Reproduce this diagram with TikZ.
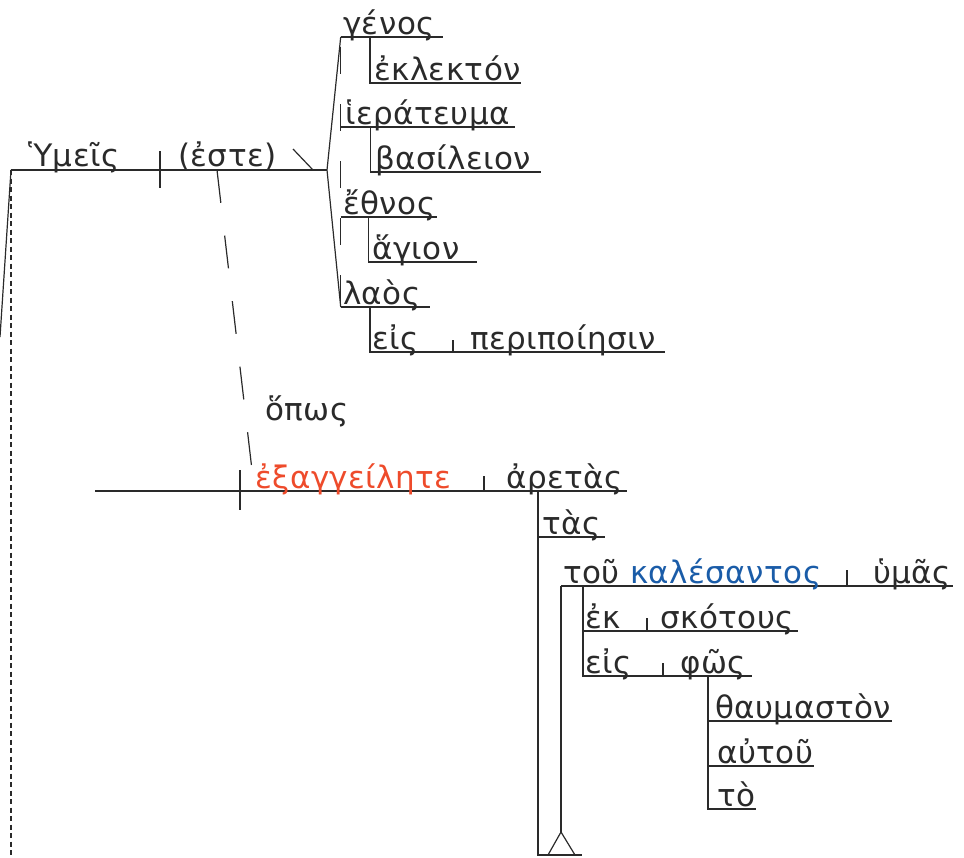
\documentclass[tikz,border=0pt]{standalone}
\usepackage{fontspec}
\setmainfont[LetterSpace=1.5]{DejaVu Sans}
\definecolor{verbred}{HTML}{EE4B2B}
\definecolor{partblue}{HTML}{1A5CA8}
\definecolor{ink}{HTML}{2A2A2A}
\begin{document}
\begin{tikzpicture}[x=1pt,y=-1pt,
  ln/.style={line width=1.2pt, draw=ink},
  wd/.style={anchor=base west, inner sep=0pt, text=ink, font=\fontsize{31}{33}\selectfont}]
\useasboundingbox (0,0) rectangle (964,857);
% ---------- main clause ----------
\coordinate (m0) at (11,170);
\coordinate (mfar) at (0,337);
\coordinate (mbot) at (11,857);
\coordinate (dvA) at (160,151);
\coordinate (dvB) at (160,188);
\coordinate (fork) at (327,170);
\coordinate (bsA) at (293,149);
\coordinate (bsB) at (313,170);
\node[wd] (hymeis) at (28,166) {Ὑμεῖς};
\node[wd] (este) at (178,166) {(ἐστε)};
\draw[ln] (m0) -- (fork);
\draw[ln] (dvA) -- (dvB);
\draw[ln] (bsA) -- (bsB);
\draw[ln] (m0) -- (mfar);
\draw[ln, dash pattern=on 5pt off 3.5pt] (m0) -- (mbot);
% ---------- compound predicate nominatives ----------
\coordinate (ge0) at (340.7,37);  \coordinate (ge1) at (443,37);
\coordinate (ek0) at (370,37);    \coordinate (ek1) at (370,83);  \coordinate (ek2) at (521,83);
\coordinate (hi0) at (340.7,127); \coordinate (hi1) at (515,127);
\coordinate (ba0) at (370.7,127); \coordinate (ba1) at (370.7,172); \coordinate (ba2) at (541,172);
\coordinate (et0) at (340.7,217); \coordinate (et1) at (437,217);
\coordinate (ag0) at (368.3,217); \coordinate (ag1) at (368.3,262); \coordinate (ag2) at (477,262);
\coordinate (la0) at (340.7,307); \coordinate (la1) at (430,307);
\coordinate (ei0) at (370,307);   \coordinate (ei1) at (370,352); \coordinate (ei2) at (665,352);
\coordinate (eiT) at (453,340);   \coordinate (eiB) at (453,352);
\draw[ln] (fork) -- (ge0);
\draw[ln] (fork) -- (la0);
\draw[ln, dash pattern=on 27pt off 30pt, dash phase=47pt] (ge0) -- (la0);
\draw[ln] (ge0) -- (ge1);
\draw[ln] (ek0) -- (ek1) -- (ek2);
\draw[ln] (hi0) -- (hi1);
\draw[ln] (ba0) -- (ba1) -- (ba2);
\draw[ln] (et0) -- (et1);
\draw[ln] (ag0) -- (ag1) -- (ag2);
\draw[ln] (la0) -- (la1);
\draw[ln] (ei0) -- (ei1) -- (ei2);
\draw[ln] (eiT) -- (eiB);
\node[wd] (genos) at (343,34) {γένος};
\node[wd] (eklekton) at (374,80) {ἐκλεκτόν};
\node[wd] (hierateuma) at (345,124) {ἱεράτευμα};
\node[wd] (basileion) at (375,169) {βασίλειον};
\node[wd] (ethnos) at (343,214) {ἔθνος};
\node[wd] (hagion) at (372,259) {ἅγιον};
\node[wd] (laos) at (343,304) {λαὸς};
\node[wd] (eis1) at (372,349) {εἰς};
\node[wd] (peripoiesin) at (470,349) {περιποίησιν};
% ---------- purpose clause ----------
\coordinate (dsA) at (217,170);
\coordinate (dsB) at (252,470);
\draw[ln, dash pattern=on 33pt off 33pt] (dsA) -- (dsB);
\node[wd] (hopos) at (265,420) {ὅπως};
\coordinate (x0) at (95,491);   \coordinate (x1) at (627,491);
\coordinate (xdA) at (240,470); \coordinate (xdB) at (240,510);
\coordinate (xtA) at (484,476); \coordinate (xtB) at (484,491);
\draw[ln] (x0) -- (x1);
\draw[ln] (xdA) -- (xdB);
\draw[ln] (xtA) -- (xtB);
\node[wd, text=verbred] (exangeilete) at (255,488) {ἐξαγγείλητε};
\node[wd] (aretas) at (506,488) {ἀρετὰς};
% modifiers of aretas
\coordinate (ar0) at (538,491); \coordinate (ar1) at (538,855); \coordinate (ar2) at (582,855);
\coordinate (ta1) at (538,537); \coordinate (ta2) at (605,537);
\draw[ln] (ar0) -- (ar1) -- (ar2);
\draw[ln] (ta1) -- (ta2);
\node[wd] (tas) at (542,534) {τὰς};
% participle on a stilt
\coordinate (trL) at (548,855); \coordinate (trA) at (561,832); \coordinate (trR) at (575,855);
\coordinate (pa0) at (561,586); \coordinate (pa1) at (953,586);
\coordinate (ptA) at (847,570); \coordinate (ptB) at (847,586);
\draw[ln] (trL) -- (trA) -- (trR);
\draw[ln] (pa0) -- (trA);
\draw[ln] (pa0) -- (pa1);
\draw[ln] (ptA) -- (ptB);
\node[wd] (tou) at (563,583) {τοῦ};
\node[wd, text=partblue] (kalesantos) at (630,583) {καλέσαντος};
\node[wd] (hymas) at (873,583) {ὑμᾶς};
% prepositional phrases
\coordinate (pp0) at (583,586); \coordinate (pp1) at (583,676);
\coordinate (ekL) at (583,631); \coordinate (ekR) at (798,631);
\coordinate (ekA) at (647,618); \coordinate (ekB) at (647,631);
\coordinate (esR) at (752,676);
\coordinate (esA) at (663,663); \coordinate (esB) at (663,676);
\draw[ln] (pp0) -- (pp1) -- (esR);
\draw[ln] (ekL) -- (ekR);
\draw[ln] (ekA) -- (ekB);
\draw[ln] (esA) -- (esB);
\node[wd] (ek) at (585,628) {ἐκ};
\node[wd] (skotous) at (660,628) {σκότους};
\node[wd] (eis2) at (585,673) {εἰς};
\node[wd] (phos) at (680,673) {φῶς};
% modifiers of phos
\coordinate (ph0) at (708,676); \coordinate (ph1) at (708,809);
\coordinate (thL) at (708,721); \coordinate (thR) at (892,721);
\coordinate (auL) at (708,766); \coordinate (auR) at (814,766);
\coordinate (toR) at (756,809);
\draw[ln] (ph0) -- (ph1) -- (toR);
\draw[ln] (thL) -- (thR);
\draw[ln] (auL) -- (auR);
\node[wd] (thaumaston) at (715,718) {θαυμαστὸν};
\node[wd] (autou) at (717,763) {αὐτοῦ};
\node[wd] (to) at (717,806) {τὸ};
\end{tikzpicture}
\end{document}
